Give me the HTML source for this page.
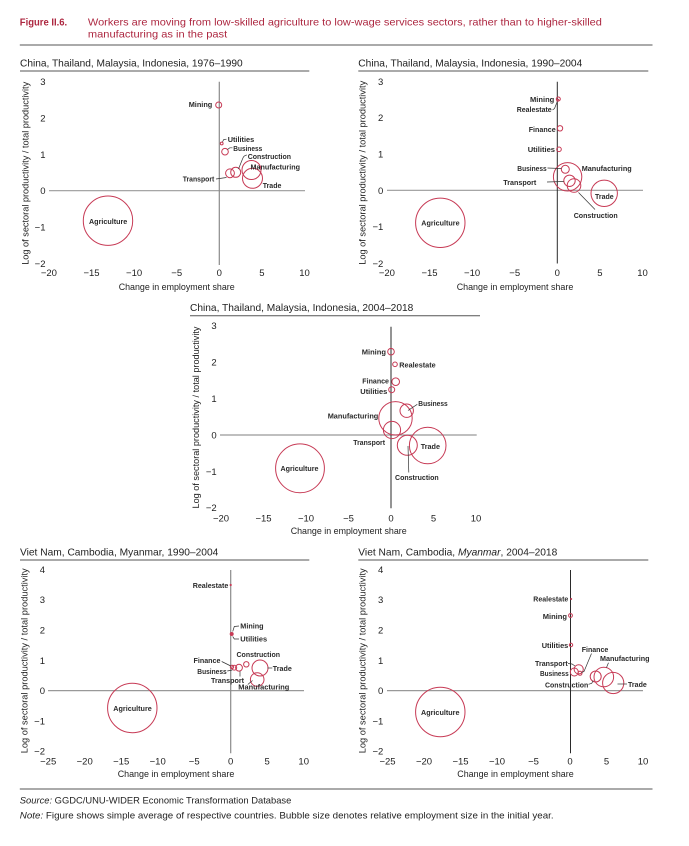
<!DOCTYPE html>
<html><head><meta charset="utf-8">
<style>
html,body{margin:0;padding:0;background:#fff;}
svg{display:block;}
text{font-family:"Liberation Sans",sans-serif;}
.hd{font-size:10.5px;fill:#ad2740;}
.pt{font-size:10.5px;fill:#222;}
.tk{font-size:9.5px;fill:#222;}
.ax{font-size:9.5px;fill:#222;}
.lb{font-size:7.6px;font-weight:bold;fill:#2a2a2a;}
.ft{font-size:9.5px;fill:#222;}
.b{fill:none;stroke:#c73a55;stroke-width:1;}
.l{fill:none;stroke:#333;stroke-width:0.7;}
.hg{stroke:#999;stroke-width:1.2;}
.vg{stroke:#8a8a8a;stroke-width:1.2;}
.vd{stroke:#2a2a2a;stroke-width:1;}
.ul{stroke:#555;stroke-width:1;}
</style></head>
<body>
<svg width="689" height="846" viewBox="0 0 689 846" xmlns="http://www.w3.org/2000/svg">
<rect width="689" height="846" fill="#fff"/>

<!-- Header -->
<text class="hd" x="19.8" y="25.7" font-weight="bold" textLength="47.4" lengthAdjust="spacingAndGlyphs">Figure II.6.</text>
<text class="hd" x="87.9" y="25.7" textLength="514" lengthAdjust="spacingAndGlyphs">Workers are moving from low-skilled agriculture to low-wage services sectors, rather than to higher-skilled</text>
<text class="hd" x="87.9" y="37.5" textLength="139.3" lengthAdjust="spacingAndGlyphs">manufacturing as in the past</text>
<line x1="19.8" y1="45" x2="652.5" y2="45" stroke="#777" stroke-width="1.2"/>

<!-- ============ Panel 1 ============ -->
<text class="pt" x="20" y="66.3" textLength="222.7" lengthAdjust="spacingAndGlyphs">China, Thailand, Malaysia, Indonesia, 1976–1990</text>
<line class="ul" x1="20" y1="71" x2="309.3" y2="71"/>
<line class="hg" x1="49" y1="190.7" x2="305" y2="190.7"/>
<line class="vg" x1="219.3" y1="81.7" x2="219.3" y2="265"/>
<g class="tk" text-anchor="end">
<text x="45.5" y="85.2">3</text><text x="45.5" y="121.5">2</text><text x="45.5" y="157.9">1</text>
<text x="45.5" y="194.2">0</text><text x="45.5" y="230.5">−1</text><text x="45.5" y="266.8">−2</text>
</g>
<g class="tk" text-anchor="middle">
<text x="48.9" y="276">−20</text><text x="91.5" y="276">−15</text><text x="134.1" y="276">−10</text>
<text x="176.7" y="276">−5</text><text x="219.3" y="276">0</text><text x="261.9" y="276">5</text><text x="304.5" y="276">10</text>
</g>
<text class="ax" x="176.7" y="290" text-anchor="middle" textLength="116" lengthAdjust="spacingAndGlyphs">Change in employment share</text>
<text class="ax" transform="translate(28.7,173.3) rotate(-90)" text-anchor="middle" textLength="183" lengthAdjust="spacingAndGlyphs">Log of sectoral productivity / total productivity</text>
<g>
<circle class="b" cx="218.7" cy="105" r="3"/>
<circle class="b" cx="221.7" cy="143.5" r="1.4"/>
<circle class="b" cx="225" cy="151.7" r="3.3"/>
<circle class="b" cx="230" cy="173.3" r="4.4"/>
<circle class="b" cx="235.7" cy="172.3" r="5"/>
<circle class="b" cx="251.5" cy="170" r="9.5"/>
<circle class="b" cx="252.5" cy="178.3" r="10"/>
<circle class="b" cx="108" cy="220.7" r="24.7"/>
</g>
<path class="l" d="M222.5,141.8 L223.8,139.5 L226.5,139.2"/>
<path class="l" d="M227.5,149.5 L229.8,147.8 L232.5,147.8"/>
<path class="l" d="M216,179 L226.5,177.5"/>
<path class="l" d="M246.8,155 Q243.5,155.5 242.5,159 L238.5,169"/>
<g class="lb">
<text x="188.7" y="107.2" textLength="23.6" lengthAdjust="spacingAndGlyphs">Mining</text>
<text x="227.7" y="141.8" textLength="26.5" lengthAdjust="spacingAndGlyphs">Utilities</text>
<text x="233.3" y="151" textLength="29" lengthAdjust="spacingAndGlyphs">Business</text>
<text x="182.7" y="181.6" textLength="31.6" lengthAdjust="spacingAndGlyphs">Transport</text>
<text x="247.7" y="159" textLength="43.3" lengthAdjust="spacingAndGlyphs">Construction</text>
<text x="250.5" y="169.5" textLength="49.5" lengthAdjust="spacingAndGlyphs">Manufacturing</text>
<text x="262.7" y="188" textLength="18.7" lengthAdjust="spacingAndGlyphs">Trade</text>
<text x="89" y="223.8" textLength="38.3" lengthAdjust="spacingAndGlyphs">Agriculture</text>
</g>

<!-- ============ Panel 2 ============ -->
<text class="pt" x="358.3" y="66.3" textLength="224" lengthAdjust="spacingAndGlyphs">China, Thailand, Malaysia, Indonesia, 1990–2004</text>
<line class="ul" x1="358.3" y1="71" x2="648.3" y2="71"/>
<line class="hg" x1="387" y1="190.3" x2="643" y2="190.3"/>
<line class="vd" x1="557.3" y1="81.7" x2="557.3" y2="263.5"/>
<g class="tk" text-anchor="end">
<text x="383.3" y="85.2">3</text><text x="383.3" y="121.2">2</text><text x="383.3" y="157.5">1</text>
<text x="383.3" y="193.8">0</text><text x="383.3" y="230.2">−1</text><text x="383.3" y="266.8">−2</text>
</g>
<g class="tk" text-anchor="middle">
<text x="386.9" y="276">−20</text><text x="429.5" y="276">−15</text><text x="472.1" y="276">−10</text>
<text x="514.7" y="276">−5</text><text x="557.3" y="276">0</text><text x="599.9" y="276">5</text><text x="642.5" y="276">10</text>
</g>
<text class="ax" x="515" y="290" text-anchor="middle" textLength="116.6" lengthAdjust="spacingAndGlyphs">Change in employment share</text>
<text class="ax" transform="translate(365.5,172.8) rotate(-90)" text-anchor="middle" textLength="184" lengthAdjust="spacingAndGlyphs">Log of sectoral productivity / total productivity</text>
<g>
<circle class="b" cx="558.3" cy="99" r="2"/>
<circle class="b" cx="557.8" cy="100.3" r="1"/>
<circle class="b" cx="560" cy="128.3" r="2.7"/>
<circle class="b" cx="559" cy="149.3" r="2.3"/>
<circle class="b" cx="565.3" cy="169.3" r="4"/>
<circle class="b" cx="567.6" cy="176.8" r="14.2"/>
<circle class="b" cx="569.5" cy="180.8" r="5.7"/>
<circle class="b" cx="574" cy="185.5" r="6.8"/>
<circle class="b" cx="604.2" cy="193.3" r="13.2"/>
<circle class="b" cx="440.3" cy="222.8" r="24.7"/>
</g>
<path class="l" d="M552.5,110 L554.5,108.5 L557.3,101.5"/>
<path class="l" d="M547.5,168 L561.3,168.5"/>
<path class="l" d="M547,182 L563.8,181.5"/>
<path class="l" d="M578.5,192.5 L595,209.5"/>
<g class="lb">
<text x="530" y="101.8" textLength="24.3" lengthAdjust="spacingAndGlyphs">Mining</text>
<text x="516.7" y="112" textLength="35" lengthAdjust="spacingAndGlyphs">Realestate</text>
<text x="528.7" y="131.8" textLength="27" lengthAdjust="spacingAndGlyphs">Finance</text>
<text x="527.7" y="151.8" textLength="27.3" lengthAdjust="spacingAndGlyphs">Utilities</text>
<text x="517.3" y="170.8" textLength="29.4" lengthAdjust="spacingAndGlyphs">Business</text>
<text x="581.7" y="170.8" textLength="50" lengthAdjust="spacingAndGlyphs">Manufacturing</text>
<text x="503.3" y="184.8" textLength="33" lengthAdjust="spacingAndGlyphs">Transport</text>
<text x="573.7" y="217.8" textLength="44" lengthAdjust="spacingAndGlyphs">Construction</text>
<text x="595" y="198.8" textLength="18.7" lengthAdjust="spacingAndGlyphs">Trade</text>
<text x="421.3" y="225.5" textLength="38.3" lengthAdjust="spacingAndGlyphs">Agriculture</text>
</g>

<!-- ============ Panel 3 ============ -->
<text class="pt" x="190" y="311" textLength="223.3" lengthAdjust="spacingAndGlyphs">China, Thailand, Malaysia, Indonesia, 2004–2018</text>
<line class="ul" x1="190" y1="315.7" x2="480" y2="315.7"/>
<line class="hg" x1="220" y1="435" x2="476.7" y2="435"/>
<line class="vd" x1="391" y1="326.7" x2="391" y2="508.3"/>
<g class="tk" text-anchor="end">
<text x="216.7" y="329.2">3</text><text x="216.7" y="365.6">2</text><text x="216.7" y="402">1</text>
<text x="216.7" y="438.5">0</text><text x="216.7" y="474.8">−1</text><text x="216.7" y="511.2">−2</text>
</g>
<g class="tk" text-anchor="middle">
<text x="221" y="521.5">−20</text><text x="263.5" y="521.5">−15</text><text x="306" y="521.5">−10</text>
<text x="348.5" y="521.5">−5</text><text x="391" y="521.5">0</text><text x="433.5" y="521.5">5</text><text x="476" y="521.5">10</text>
</g>
<text class="ax" x="348.7" y="534" text-anchor="middle" textLength="116" lengthAdjust="spacingAndGlyphs">Change in employment share</text>
<text class="ax" transform="translate(199,417.5) rotate(-90)" text-anchor="middle" textLength="182" lengthAdjust="spacingAndGlyphs">Log of sectoral productivity / total productivity</text>
<g>
<circle class="b" cx="391" cy="351.7" r="3.3"/>
<circle class="b" cx="395" cy="364.3" r="2.3"/>
<circle class="b" cx="395.7" cy="381.7" r="3.8"/>
<circle class="b" cx="391.7" cy="389.7" r="3"/>
<circle class="b" cx="406.7" cy="410.7" r="6.7"/>
<circle class="b" cx="395.5" cy="418.3" r="16.7"/>
<circle class="b" cx="392" cy="430" r="8.6"/>
<circle class="b" cx="407.3" cy="445.3" r="10"/>
<circle class="b" cx="427.7" cy="445.5" r="18.3"/>
<circle class="b" cx="300" cy="468.3" r="24.4"/>
</g>
<path class="l" d="M417.3,404.3 L408,410.5"/>
<path class="l" d="M408,446 L408.8,472.5"/>
<g class="lb">
<text x="361.7" y="354.3" textLength="24.3" lengthAdjust="spacingAndGlyphs">Mining</text>
<text x="399.3" y="367.3" textLength="36.4" lengthAdjust="spacingAndGlyphs">Realestate</text>
<text x="362.3" y="383.3" textLength="26.7" lengthAdjust="spacingAndGlyphs">Finance</text>
<text x="360.3" y="393.8" textLength="27" lengthAdjust="spacingAndGlyphs">Utilities</text>
<text x="418.3" y="405.8" textLength="29.4" lengthAdjust="spacingAndGlyphs">Business</text>
<text x="327.7" y="418.3" textLength="50.6" lengthAdjust="spacingAndGlyphs">Manufacturing</text>
<text x="353.3" y="444.8" textLength="31.7" lengthAdjust="spacingAndGlyphs">Transport</text>
<text x="395" y="479.8" textLength="43.7" lengthAdjust="spacingAndGlyphs">Construction</text>
<text x="420.7" y="448.8" textLength="19.3" lengthAdjust="spacingAndGlyphs">Trade</text>
<text x="280.5" y="470.8" textLength="38" lengthAdjust="spacingAndGlyphs">Agriculture</text>
</g>

<!-- ============ Panel 4 ============ -->
<text class="pt" x="20" y="555.3" textLength="198.3" lengthAdjust="spacingAndGlyphs">Viet Nam, Cambodia, Myanmar, 1990–2004</text>
<line class="ul" x1="20" y1="560" x2="309.3" y2="560"/>
<line class="hg" x1="48" y1="690.6" x2="304" y2="690.6"/>
<line class="vg" x1="230.7" y1="570" x2="230.7" y2="753.3"/>
<g class="tk" text-anchor="end">
<text x="45" y="572.8">4</text><text x="45" y="603.1">3</text><text x="45" y="633.4">2</text><text x="45" y="663.8">1</text>
<text x="45" y="694.1">0</text><text x="45" y="724.4">−1</text><text x="45" y="754.7">−2</text>
</g>
<g class="tk" text-anchor="middle">
<text x="48.2" y="764.5">−25</text><text x="84.7" y="764.5">−20</text><text x="121.2" y="764.5">−15</text><text x="157.7" y="764.5">−10</text>
<text x="194.2" y="764.5">−5</text><text x="230.7" y="764.5">0</text><text x="267.2" y="764.5">5</text><text x="303.7" y="764.5">10</text>
</g>
<text class="ax" x="176" y="777" text-anchor="middle" textLength="116.6" lengthAdjust="spacingAndGlyphs">Change in employment share</text>
<text class="ax" transform="translate(27.5,660.8) rotate(-90)" text-anchor="middle" textLength="185" lengthAdjust="spacingAndGlyphs">Log of sectoral productivity / total productivity</text>
<g>
<circle cx="230.7" cy="585" r="1.1" fill="#c73a55"/>
<circle cx="231.7" cy="634" r="1.6" fill="#c73a55" stroke="#c73a55" stroke-width="0.8"/>
<circle class="b" cx="232" cy="667" r="1.7"/>
<circle class="b" cx="234.3" cy="667.7" r="2.4"/>
<circle class="b" cx="239" cy="667.7" r="3.4"/>
<circle class="b" cx="246.3" cy="664.3" r="2.7"/>
<circle class="b" cx="260" cy="668" r="8"/>
<circle class="b" cx="257.2" cy="679.5" r="6.8"/>
<circle class="b" cx="132.3" cy="708" r="24.7"/>
</g>
<path class="l" d="M232.7,631.5 L234.3,626.5 L239,626"/>
<path class="l" d="M232.7,636.5 L234.3,639 L239,639"/>
<path class="l" d="M221.7,661.5 L230.8,666"/>
<path class="l" d="M227.3,671 L232.3,670"/>
<path class="l" d="M240,671.3 L240,676.5"/>
<path class="l" d="M267.5,668 L272.3,668"/>
<path class="l" d="M247.8,684.5 L252.5,680.5"/>
<g class="lb">
<text x="192.7" y="587.8" textLength="35.6" lengthAdjust="spacingAndGlyphs">Realestate</text>
<text x="240.3" y="628.6" textLength="23.3" lengthAdjust="spacingAndGlyphs">Mining</text>
<text x="240.3" y="641.3" textLength="26.8" lengthAdjust="spacingAndGlyphs">Utilities</text>
<text x="236.5" y="656.8" textLength="43.5" lengthAdjust="spacingAndGlyphs">Construction</text>
<text x="193.5" y="662.8" textLength="27" lengthAdjust="spacingAndGlyphs">Finance</text>
<text x="197.3" y="673.8" textLength="29.4" lengthAdjust="spacingAndGlyphs">Business</text>
<text x="211" y="682.8" textLength="33" lengthAdjust="spacingAndGlyphs">Transport</text>
<text x="272.8" y="670.8" textLength="19" lengthAdjust="spacingAndGlyphs">Trade</text>
<text x="238.3" y="689.5" textLength="51" lengthAdjust="spacingAndGlyphs">Manufacturing</text>
<text x="113.3" y="710.8" textLength="38.5" lengthAdjust="spacingAndGlyphs">Agriculture</text>
</g>

<!-- ============ Panel 5 ============ -->
<text class="pt" x="358.3" y="555.3" textLength="199" lengthAdjust="spacingAndGlyphs">Viet Nam, Cambodia, <tspan font-style="italic">Myanmar</tspan>, 2004–2018</text>
<line class="ul" x1="358.3" y1="560" x2="648.3" y2="560"/>
<line class="hg" x1="387" y1="690.6" x2="643" y2="690.6"/>
<line class="vd" x1="570.5" y1="570" x2="570.5" y2="753.3"/>
<g class="tk" text-anchor="end">
<text x="383.3" y="572.8">4</text><text x="383.3" y="603.1">3</text><text x="383.3" y="633.4">2</text><text x="383.3" y="663.8">1</text>
<text x="383.3" y="694.1">0</text><text x="383.3" y="724.4">−1</text><text x="383.3" y="754.7">−2</text>
</g>
<g class="tk" text-anchor="middle">
<text x="387.5" y="764.5">−25</text><text x="424" y="764.5">−20</text><text x="460.5" y="764.5">−15</text><text x="497" y="764.5">−10</text>
<text x="533.5" y="764.5">−5</text><text x="570" y="764.5">0</text><text x="606.5" y="764.5">5</text><text x="643" y="764.5">10</text>
</g>
<text class="ax" x="515.5" y="777" text-anchor="middle" textLength="116.4" lengthAdjust="spacingAndGlyphs">Change in employment share</text>
<text class="ax" transform="translate(365.5,660.8) rotate(-90)" text-anchor="middle" textLength="185" lengthAdjust="spacingAndGlyphs">Log of sectoral productivity / total productivity</text>
<g>
<circle cx="571.2" cy="599" r="1" fill="#c73a55"/>
<circle class="b" cx="570.5" cy="615.5" r="1.9"/>
<circle class="b" cx="571" cy="645" r="1.7"/>
<circle class="b" cx="578.7" cy="669.3" r="4.6"/>
<circle class="b" cx="574.3" cy="672" r="4"/>
<circle class="b" cx="580" cy="673.3" r="2"/>
<circle class="b" cx="595.7" cy="676.5" r="5.5"/>
<circle class="b" cx="603.8" cy="677" r="9.8"/>
<circle class="b" cx="613.2" cy="683" r="10.6"/>
<circle class="b" cx="440.3" cy="712" r="24.7"/>
</g>
<path class="l" d="M591.5,653.5 L584,671.5 L581.5,672.5"/>
<path class="l" d="M568,663.5 L572,664 L575,666"/>
<path class="l" d="M588.5,684.3 L591.7,683.3 L593.3,680.5"/>
<path class="l" d="M608.5,662.8 L606.5,667.5"/>
<path class="l" d="M617.5,684 L627,684"/>
<g class="lb">
<text x="533.3" y="601.6" textLength="35" lengthAdjust="spacingAndGlyphs">Realestate</text>
<text x="542.7" y="618.8" textLength="24.3" lengthAdjust="spacingAndGlyphs">Mining</text>
<text x="541.7" y="647.8" textLength="26.6" lengthAdjust="spacingAndGlyphs">Utilities</text>
<text x="581.7" y="651.8" textLength="26.6" lengthAdjust="spacingAndGlyphs">Finance</text>
<text x="535" y="665.8" textLength="32.7" lengthAdjust="spacingAndGlyphs">Transport</text>
<text x="540" y="675.8" textLength="28.7" lengthAdjust="spacingAndGlyphs">Business</text>
<text x="545" y="687.6" textLength="43.3" lengthAdjust="spacingAndGlyphs">Construction</text>
<text x="600" y="660.8" textLength="49.5" lengthAdjust="spacingAndGlyphs">Manufacturing</text>
<text x="628" y="686.8" textLength="18.8" lengthAdjust="spacingAndGlyphs">Trade</text>
<text x="421" y="714.8" textLength="38.5" lengthAdjust="spacingAndGlyphs">Agriculture</text>
</g>

<!-- Footer -->
<line x1="19.8" y1="789" x2="652.5" y2="789" stroke="#555" stroke-width="1"/>
<text class="ft" x="19.8" y="803.5" textLength="271.5" lengthAdjust="spacingAndGlyphs"><tspan font-style="italic">Source:</tspan> GGDC/UNU-WIDER Economic Transformation Database</text>
<text class="ft" x="19.8" y="818.5" textLength="533.8" lengthAdjust="spacingAndGlyphs"><tspan font-style="italic">Note:</tspan> Figure shows simple average of respective countries. Bubble size denotes relative employment size in the initial year.</text>
</svg>
</body></html>
